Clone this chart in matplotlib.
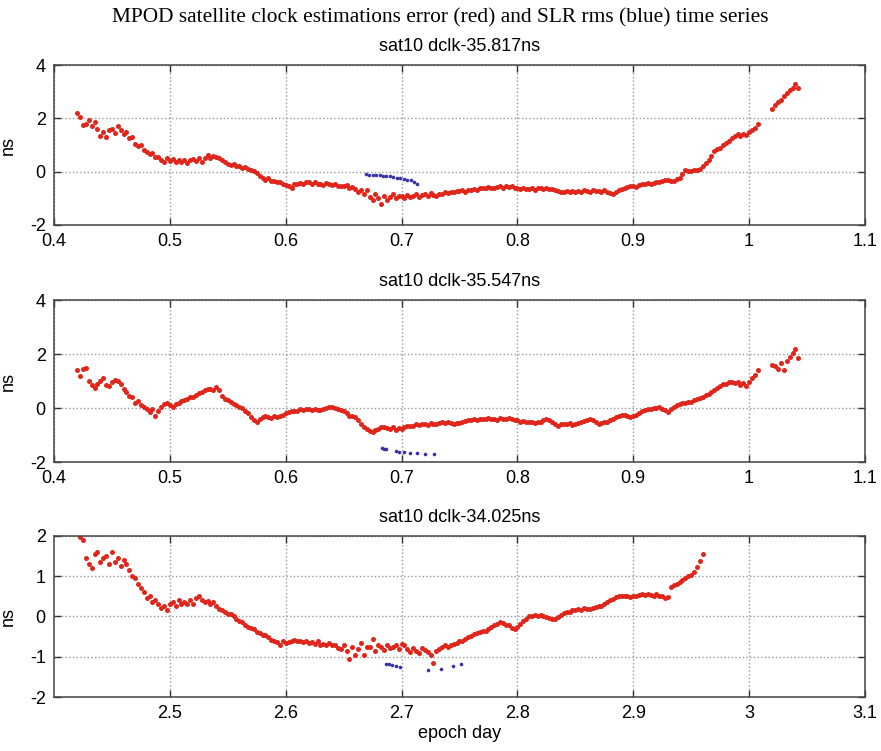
import numpy as np
import matplotlib.pyplot as plt

plt.rcParams['font.family'] = ['Liberation Sans', 'DejaVu Sans']
plt.rcParams['axes.unicode_minus'] = False

# epoch sampling step (day) for the clock error series
step = 0.0025

# panel 1: sat10 dclk-35.817ns
p1_title = "sat10 dclk-35.817ns"
p1_start_a = 0.42
p1_err_a = [
    2.20, 2.05, 1.75, 1.80, 1.95, 1.70, 1.85, 1.60, 1.35, 1.50, 1.30, 1.55,
    1.60, 1.45, 1.70, 1.55, 1.40, 1.50, 1.25, 1.30, 1.05, 0.95, 1.00, 0.80,
    0.75, 0.65, 0.70, 0.55, 0.55, 0.45, 0.35, 0.50, 0.40, 0.48, 0.35, 0.42,
    0.38, 0.45, 0.32, 0.42, 0.48, 0.40, 0.50, 0.38, 0.52, 0.62, 0.50, 0.58,
    0.55, 0.50, 0.42, 0.35, 0.30, 0.25, 0.28, 0.22, 0.20, 0.15, 0.18, 0.10,
    0.08, 0.02, -0.05, -0.15, -0.25, -0.30, -0.22, -0.35, -0.35, -0.40, -0.38, -0.45,
    -0.50, -0.55, -0.62, -0.48, -0.48, -0.42, -0.45, -0.40, -0.40, -0.45, -0.38, -0.48,
    -0.45, -0.50, -0.42, -0.48, -0.50, -0.45, -0.52, -0.55, -0.55, -0.50, -0.60, -0.58,
    -0.65, -0.75, -0.70, -0.85, -0.70, -0.95, -1.05, -0.85, -1.00, -1.20, -0.90, -1.05,
    -0.95, -0.85, -1.00, -0.92, -0.90, -0.98, -0.88, -0.95, -0.90, -0.85, -0.95, -0.88,
    -0.85, -0.92, -0.80, -0.88, -0.90, -0.85, -0.82, -0.78, -0.80, -0.75, -0.78, -0.72,
    -0.72, -0.70, -0.75, -0.68, -0.68, -0.65, -0.70, -0.62, -0.60, -0.62, -0.58, -0.62,
    -0.60, -0.58, -0.55, -0.60, -0.55, -0.58, -0.52, -0.60, -0.62, -0.65, -0.60, -0.66,
    -0.65, -0.62, -0.68, -0.60, -0.62, -0.66, -0.60, -0.64, -0.65, -0.70, -0.72, -0.75,
    -0.75, -0.72, -0.78, -0.74, -0.75, -0.72, -0.76, -0.70, -0.72, -0.75, -0.70, -0.74,
    -0.72, -0.76, -0.70, -0.78, -0.80, -0.84, -0.75, -0.70, -0.65, -0.62, -0.58, -0.55,
    -0.53, -0.56, -0.50, -0.48, -0.47, -0.44, -0.45, -0.42, -0.40, -0.38, -0.35, -0.33,
    -0.30, -0.34, -0.36, -0.28, -0.22, -0.10, 0.05, 0.02, 0.02, 0.06, 0.05, 0.10,
    0.20, 0.32, 0.45, 0.60, 0.77, 0.85, 0.90, 1.00, 1.08, 1.15, 1.27, 1.32,
    1.40, 1.35, 1.42, 1.38, 1.50, 1.55, 1.65, 1.80,
]
p1_start_b = 1.02
p1_err_b = [2.35, 2.50, 2.60, 2.70, 2.85, 2.95, 3.05, 3.15, 3.30, 3.15]
p1_slr_day = [0.669, 0.672, 0.675, 0.678, 0.681, 0.684, 0.687, 0.690,
              0.693, 0.696, 0.699, 0.702, 0.705, 0.708, 0.711, 0.713]
p1_slr = [-0.10, -0.12, -0.11, -0.14, -0.13, -0.15, -0.18, -0.17,
          -0.20, -0.22, -0.25, -0.27, -0.30, -0.33, -0.38, -0.45]

# panel 2: sat10 dclk-35.547ns
p2_title = "sat10 dclk-35.547ns"
p2_start_a = 0.42
p2_err_a = [
    1.40, 1.20, 1.45, 1.50, 1.00, 0.85, 0.75, 0.90, 1.00, 1.10, 0.85, 0.80,
    0.95, 1.05, 1.00, 0.90, 0.70, 0.60, 0.45, 0.40, 0.20, 0.25, 0.10, 0.05,
    -0.05, -0.15, -0.05, -0.30, -0.10, 0.05, 0.15, 0.20, 0.10, 0.05, 0.15, 0.18,
    0.25, 0.30, 0.35, 0.40, 0.40, 0.48, 0.55, 0.60, 0.65, 0.70, 0.72, 0.68,
    0.78, 0.65, 0.45, 0.35, 0.28, 0.22, 0.15, 0.10, 0.04, 0.00, -0.10, -0.20,
    -0.35, -0.45, -0.50, -0.40, -0.35, -0.30, -0.33, -0.38, -0.28, -0.32, -0.28, -0.25,
    -0.20, -0.15, -0.12, -0.10, -0.10, -0.05, -0.08, -0.03, -0.03, -0.06, -0.02, -0.07,
    -0.06, -0.02, 0.01, 0.03, 0.03, -0.01, -0.03, -0.06, -0.10, -0.18, -0.28, -0.30,
    -0.33, -0.45, -0.58, -0.70, -0.77, -0.85, -0.90, -0.82, -0.77, -0.72, -0.70, -0.75,
    -0.77, -0.72, -0.80, -0.75, -0.77, -0.70, -0.68, -0.65, -0.65, -0.60, -0.62, -0.58,
    -0.58, -0.62, -0.55, -0.60, -0.58, -0.55, -0.52, -0.55, -0.52, -0.56, -0.58, -0.55,
    -0.56, -0.50, -0.48, -0.45, -0.46, -0.42, -0.44, -0.40, -0.40, -0.42, -0.38, -0.40,
    -0.40, -0.44, -0.38, -0.42, -0.40, -0.38, -0.42, -0.44, -0.46, -0.50, -0.48, -0.52,
    -0.52, -0.50, -0.54, -0.50, -0.52, -0.45, -0.40, -0.46, -0.52, -0.60, -0.65, -0.60,
    -0.58, -0.60, -0.56, -0.62, -0.60, -0.55, -0.52, -0.48, -0.46, -0.42, -0.46, -0.52,
    -0.58, -0.55, -0.52, -0.50, -0.46, -0.40, -0.35, -0.30, -0.27, -0.25, -0.30, -0.33,
    -0.31, -0.25, -0.18, -0.12, -0.09, -0.05, -0.03, 0.00, 0.00, 0.03, -0.02, -0.08,
    -0.15, -0.05, 0.04, 0.10, 0.16, 0.18, 0.20, 0.22, 0.22, 0.28, 0.35, 0.38,
    0.41, 0.48, 0.53, 0.60, 0.68, 0.75, 0.82, 0.88, 0.90, 0.95, 0.97, 0.93,
    0.97, 0.85, 0.92, 0.80, 0.97, 1.10, 1.22, 1.40,
]
p2_start_b = 1.02
p2_err_b = [1.60, 1.55, 1.45, 1.65, 1.40, 1.75, 1.90, 2.05, 2.20, 1.85]
p2_slr_day = [0.683, 0.685, 0.687, 0.695, 0.698, 0.702, 0.707, 0.713, 0.720, 0.728]
p2_slr = [-1.48, -1.50, -1.52, -1.58, -1.62, -1.62, -1.65, -1.68, -1.70, -1.72]

# panel 3: sat10 dclk-34.025ns
p3_title = "sat10 dclk-34.025ns"
p3_start = 2.4225
p3_err = [
    1.98, 1.90, 1.45, 1.30, 1.20, 1.55, 1.60, 1.35, 1.45, 1.50, 1.30, 1.60,
    1.35, 1.45, 1.25, 1.40, 1.30, 1.15, 1.00, 0.95, 0.80, 0.70, 0.60, 0.45,
    0.50, 0.35, 0.40, 0.30, 0.20, 0.25, 0.15, 0.30, 0.35, 0.25, 0.40, 0.30,
    0.36, 0.30, 0.40, 0.32, 0.45, 0.50, 0.40, 0.35, 0.38, 0.30, 0.35, 0.25,
    0.19, 0.15, 0.10, 0.05, 0.07, 0.00, -0.05, -0.10, -0.14, -0.20, -0.25, -0.28,
    -0.30, -0.38, -0.42, -0.45, -0.47, -0.52, -0.58, -0.62, -0.64, -0.70, -0.62, -0.66,
    -0.64, -0.60, -0.58, -0.62, -0.60, -0.64, -0.62, -0.66, -0.64, -0.68, -0.62, -0.70,
    -0.68, -0.72, -0.65, -0.70, -0.72, -0.78, -0.80, -0.70, -0.85, -1.05, -0.75, -0.95,
    -0.80, -0.65, -0.95, -0.75, -0.76, -0.55, -0.85, -0.70, -0.76, -0.82, -0.72, -0.78,
    -0.76, -0.70, -0.80, -0.68, -0.72, -0.80, -0.88, -0.78, -0.85, -0.90, -0.78, -0.82,
    -0.89, -0.95, -1.15, -0.85, -0.80, -0.76, -0.72, -0.75, -0.72, -0.68, -0.65, -0.62,
    -0.60, -0.55, -0.52, -0.48, -0.43, -0.40, -0.38, -0.36, -0.35, -0.30, -0.25, -0.20,
    -0.18, -0.14, -0.16, -0.20, -0.22, -0.28, -0.30, -0.25, -0.18, -0.10, -0.05, 0.00,
    0.02, 0.04, 0.00, 0.03, 0.02, -0.02, -0.04, -0.06, -0.06, -0.02, 0.04, 0.08,
    0.10, 0.12, 0.15, 0.17, 0.19, 0.16, 0.20, 0.18, 0.19, 0.22, 0.24, 0.26,
    0.27, 0.32, 0.37, 0.40, 0.44, 0.48, 0.50, 0.52, 0.52, 0.50, 0.48, 0.50,
    0.50, 0.53, 0.55, 0.54, 0.56, 0.54, 0.52, 0.55, 0.52, 0.50, 0.46, 0.48,
    0.73, 0.78, 0.81, 0.86, 0.90, 0.95, 1.00, 1.02, 1.10, 1.22, 1.38, 1.56,
]
p3_slr_day = [2.687, 2.689, 2.692, 2.695, 2.699, 2.723, 2.734, 2.744, 2.751]
p3_slr = [-1.17, -1.19, -1.20, -1.22, -1.25, -1.32, -1.30, -1.24, -1.18]

suptitle = "MPOD satellite clock estimations error (red) and SLR rms (blue) time series"

red = '#e0251b'
blue = '#3a33a8'

fig = plt.figure(figsize=(8.81, 7.51), dpi=100)

panels = [
    dict(rect=[0.0613, 0.7004, 0.9205, 0.2130], title=p1_title,
         segs=[(p1_start_a, p1_err_a), (p1_start_b, p1_err_b)],
         slr=(p1_slr_day, p1_slr), xlim=(0.4, 1.1),
         xticks=[0.4, 0.5, 0.6, 0.7, 0.8, 0.9, 1.0, 1.1],
         xlabels=['0.4', '0.5', '0.6', '0.7', '0.8', '0.9', '1', '1.1'],
         ylim=(-2, 4), yticks=[-2, 0, 2, 4]),
    dict(rect=[0.0613, 0.3848, 0.9205, 0.2157], title=p2_title,
         segs=[(p2_start_a, p2_err_a), (p2_start_b, p2_err_b)],
         slr=(p2_slr_day, p2_slr), xlim=(0.4, 1.1),
         xticks=[0.4, 0.5, 0.6, 0.7, 0.8, 0.9, 1.0, 1.1],
         xlabels=['0.4', '0.5', '0.6', '0.7', '0.8', '0.9', '1', '1.1'],
         ylim=(-2, 4), yticks=[-2, 0, 2, 4]),
    dict(rect=[0.0613, 0.0719, 0.9205, 0.2144], title=p3_title,
         segs=[(p3_start, p3_err)],
         slr=(p3_slr_day, p3_slr), xlim=(2.4, 3.1),
         xticks=[2.5, 2.6, 2.7, 2.8, 2.9, 3.0, 3.1],
         xlabels=['2.5', '2.6', '2.7', '2.8', '2.9', '3', '3.1'],
         ylim=(-2, 2), yticks=[-2, -1, 0, 1, 2]),
]

for p in panels:
    ax = fig.add_axes(p['rect'])
    for start, vals in p['segs']:
        days = start + step * np.arange(len(vals))
        ax.plot(days, vals, 'o', color=red, markersize=3.6, markeredgewidth=0)
    ax.plot(p['slr'][0], p['slr'][1], 'o', color=blue, markersize=2.6, markeredgewidth=0)
    ax.set_xlim(p['xlim'])
    ax.set_ylim(p['ylim'])
    ax.set_xticks(p['xticks'])
    ax.set_xticklabels(p['xlabels'])
    ax.set_yticks(p['yticks'])
    ax.grid(True, linestyle=':', color='#999999', linewidth=1.0)
    ax.tick_params(direction='in', top=True, right=True, length=5, width=1,
                   labelsize=13, pad=6, color='#333333')
    for s in ax.spines.values():
        s.set_color('#444444')
        s.set_linewidth(1.1)
    ax.set_ylabel('ns', fontsize=13)
    ax.yaxis.set_label_coords(-0.046, 0.5)
    ax.set_title(p['title'], fontsize=13, pad=10)

ax.set_xlabel('epoch day', fontsize=13, labelpad=2)

fig.text(0.5, 0.976, suptitle, ha='center', va='center', fontsize=15.4,
         family=['Liberation Serif', 'DejaVu Serif'])

fig.savefig('out.png', dpi=100)
